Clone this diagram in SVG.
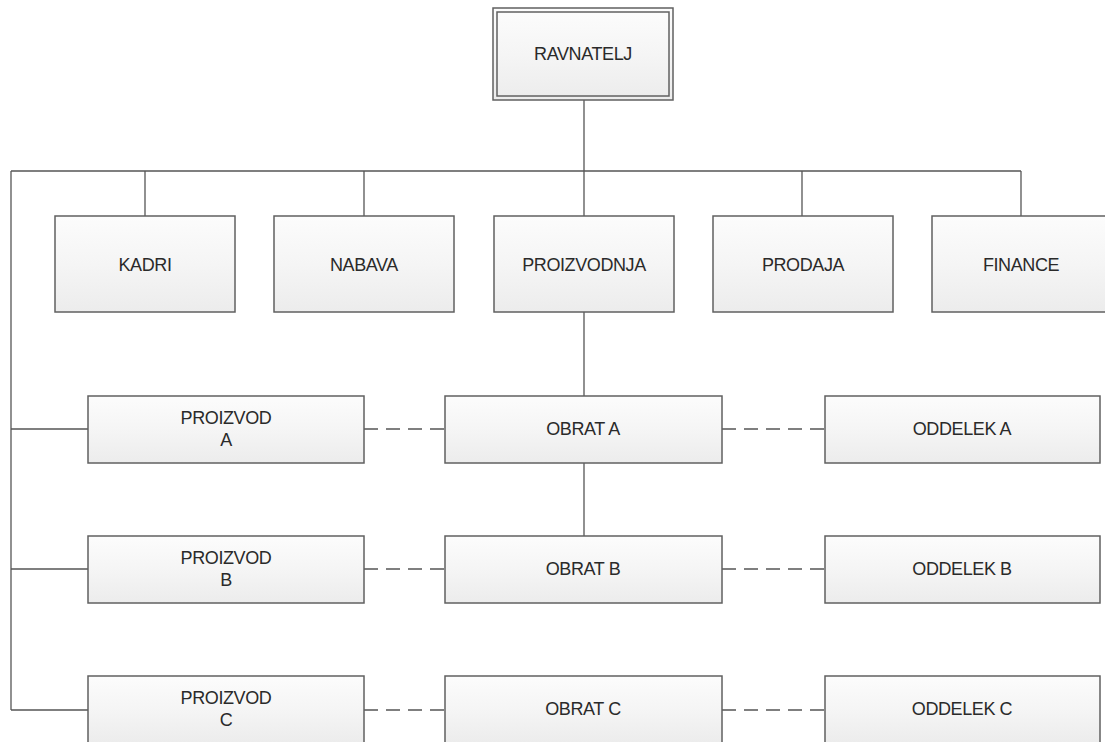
<svg xmlns="http://www.w3.org/2000/svg" width="1105" height="742" viewBox="0 0 1105 742">
  <defs>
    <linearGradient id="boxFill" x1="0" y1="0" x2="0" y2="1">
      <stop offset="0" stop-color="#fcfcfc"/>
      <stop offset="0.5" stop-color="#f5f5f5"/>
      <stop offset="1" stop-color="#ececec"/>
    </linearGradient>
    <style>
      .box { fill: url(#boxFill); stroke: #606060; stroke-width: 1.5; }
      .frame { fill: none; stroke: #606060; stroke-width: 1.5; }
      .label { font-family: "Liberation Sans", Arial, sans-serif; font-size: 18px; fill: #2a2a2a; text-anchor: middle; dominant-baseline: central; letter-spacing: -0.4px; }
      .line { fill: none; stroke: #555555; stroke-width: 1.3; }
      .dash { fill: none; stroke: #555555; stroke-width: 1.3; stroke-dasharray: 14 8; }
    </style>
  </defs>
  <rect width="1105" height="742" fill="#ffffff"/>

  <!-- connectors -->
  <g id="connectors">
    <!-- director down to the distribution bar -->
    <path class="line" d="M584 100 V171"/>
    <path class="line" d="M11 171 H1021"/>
    <!-- drops to departments -->
    <path class="line" d="M145 171 V216"/>
    <path class="line" d="M364 171 V216"/>
    <path class="line" d="M584 171 V216"/>
    <path class="line" d="M802 171 V216"/>
    <path class="line" d="M1021 171 V216"/>
    <!-- production chain -->
    <path class="line" d="M584 312 V396"/>
    <path class="line" d="M584 463 V536"/>
    <!-- left spine to products -->
    <path class="line" d="M11 171 V710"/>
    <path class="line" d="M11 429 H88"/>
    <path class="line" d="M11 569 H88"/>
    <path class="line" d="M11 710 H88"/>
    <!-- dashed links between rows -->
    <path class="dash" d="M364 429 H445"/>
    <path class="dash" d="M722 429 H825"/>
    <path class="dash" d="M364 569 H445"/>
    <path class="dash" d="M722 569 H825"/>
    <path class="dash" d="M364 710 H445"/>
    <path class="dash" d="M722 710 H825"/>
  </g>

  <!-- director -->
  <g id="ravnatelj">
    <rect class="box" x="493" y="8" width="180" height="92"/>
    <rect class="frame" x="497" y="12" width="172" height="84"/>
    <text class="label" x="583" y="54">RAVNATELJ</text>
  </g>

  <!-- departments -->
  <g id="kadri">
    <rect class="box" x="55" y="216" width="180" height="96"/>
    <text class="label" x="145" y="265">KADRI</text>
  </g>
  <g id="nabava">
    <rect class="box" x="274" y="216" width="180" height="96"/>
    <text class="label" x="364" y="265">NABAVA</text>
  </g>
  <g id="proizvodnja">
    <rect class="box" x="494" y="216" width="180" height="96"/>
    <text class="label" x="584" y="265">PROIZVODNJA</text>
  </g>
  <g id="prodaja">
    <rect class="box" x="713" y="216" width="180" height="96"/>
    <text class="label" x="803" y="265">PRODAJA</text>
  </g>
  <g id="finance">
    <rect class="box" x="932" y="216" width="180" height="96"/>
    <text class="label" x="1021" y="265">FINANCE</text>
  </g>

  <!-- products -->
  <g id="proizvod-a">
    <rect class="box" x="88" y="396" width="276" height="67"/>
    <text class="label" x="226" y="418">PROIZVOD</text>
    <text class="label" x="226" y="440">A</text>
  </g>
  <g id="proizvod-b">
    <rect class="box" x="88" y="536" width="276" height="67"/>
    <text class="label" x="226" y="558">PROIZVOD</text>
    <text class="label" x="226" y="580">B</text>
  </g>
  <g id="proizvod-c">
    <rect class="box" x="88" y="676" width="276" height="67"/>
    <text class="label" x="226" y="698">PROIZVOD</text>
    <text class="label" x="226" y="720">C</text>
  </g>

  <!-- plants -->
  <g id="obrat-a">
    <rect class="box" x="445" y="396" width="277" height="67"/>
    <text class="label" x="583" y="429">OBRAT A</text>
  </g>
  <g id="obrat-b">
    <rect class="box" x="445" y="536" width="277" height="67"/>
    <text class="label" x="583" y="569">OBRAT B</text>
  </g>
  <g id="obrat-c">
    <rect class="box" x="445" y="676" width="277" height="67"/>
    <text class="label" x="583" y="709">OBRAT C</text>
  </g>

  <!-- sections -->
  <g id="oddelek-a">
    <rect class="box" x="825" y="396" width="275" height="67"/>
    <text class="label" x="962" y="429">ODDELEK A</text>
  </g>
  <g id="oddelek-b">
    <rect class="box" x="825" y="536" width="275" height="67"/>
    <text class="label" x="962" y="569">ODDELEK B</text>
  </g>
  <g id="oddelek-c">
    <rect class="box" x="825" y="676" width="275" height="67"/>
    <text class="label" x="962" y="709">ODDELEK C</text>
  </g>
</svg>
